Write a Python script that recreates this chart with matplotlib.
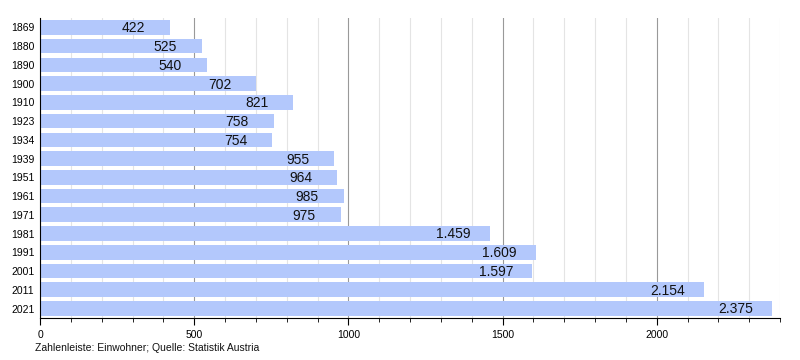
import matplotlib.pyplot as plt
from matplotlib.ticker import MultipleLocator

plt.rcParams['font.family'] = ['Liberation Sans', 'DejaVu Sans']

# Einwohnerentwicklung
jahre = ['1869', '1880', '1890', '1900', '1910', '1923', '1934', '1939',
         '1951', '1961', '1971', '1981', '1991', '2001', '2011', '2021']
einwohner = [422, 525, 540, 702, 821, 758, 754, 955,
             964, 985, 975, 1459, 1609, 1597, 2154, 2375]
beschriftung = ['422', '525', '540', '702', '821', '758', '754', '955',
                '964', '985', '975', '1.459', '1.609', '1.597', '2.154', '2.375']

fig = plt.figure(figsize=(8, 3.6), dpi=100)
ax = fig.add_axes([0.05, 0.117, 0.925, 0.833])

pos = list(range(len(jahre)))
ax.barh(pos, einwohner, height=0.78, color='#b3c8fc', zorder=2)

# Werte in den Balken, kurz vor dem Ende
for p, w, txt in zip(pos, einwohner, beschriftung):
    ax.text(w - 118, p + 0.05, txt, ha='center', va='center', fontsize=10, color='#111111', zorder=3)

ax.set_ylim(len(jahre) - 0.5, -0.5)
ax.set_xlim(0, 2400)
ax.set_yticks(pos)
ax.set_yticklabels(jahre, fontsize=7.5)
ax.tick_params(axis='y', length=0, pad=4)

ax.xaxis.set_major_locator(MultipleLocator(500))
ax.xaxis.set_minor_locator(MultipleLocator(100))
ax.tick_params(axis='x', which='major', labelsize=7.5, length=5, direction='out', width=0.8)
ax.tick_params(axis='x', which='minor', length=3, direction='out', width=0.6)

# Gitterlinien
ax.grid(True, axis='x', which='major', color='#999999', linewidth=0.8, zorder=0)
ax.grid(True, axis='x', which='minor', color='#e4e4e4', linewidth=0.8, zorder=0)

ax.spines['top'].set_visible(False)
ax.spines['right'].set_visible(False)
ax.spines['left'].set_color('black')
ax.spines['bottom'].set_color('black')

fig.text(0.044, 0.025, 'Zahlenleiste: Einwohner; Quelle: Statistik Austria', fontsize=7.5, color='#111111')

fig.savefig('out.png', dpi=100)
